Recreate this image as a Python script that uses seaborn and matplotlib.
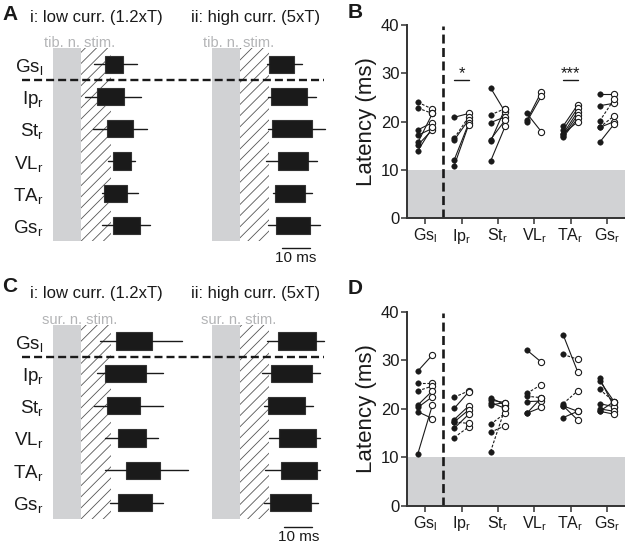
import matplotlib
matplotlib.use("Agg")
import matplotlib.pyplot as plt
import matplotlib.transforms as mtransforms
from matplotlib.lines import Line2D
import pandas as pd
import seaborn as sns

# muscle names (rows in A/C, categories in B/D)
muscles = ["Gs$_{l}$", "Ip$_{r}$", "St$_{r}$", "VL$_{r}$", "TA$_{r}$", "Gs$_{r}$"]

# A: tibial nerve stim, burst onset boxes (ms after stim onset)
a_low_whislo = [14.5, 11.3, 14.3, 19.6, 17.3, 17.3]
a_low_q1 = [18.5, 15.5, 19.3, 21.2, 18.2, 21.2]
a_low_q3 = [25.0, 25.2, 28.4, 27.6, 26.4, 31.0]
a_low_whishi = [29.8, 31.2, 33.4, 29.2, 30.1, 34.5]
a_high_whislo = [19.6, 20.0, 20.1, 19.3, 21.8, 20.1]
a_high_q1 = [20.6, 21.1, 21.6, 23.6, 22.5, 22.8]
a_high_q3 = [29.4, 34.2, 35.7, 34.5, 33.3, 35.1]
a_high_whishi = [32.3, 37.2, 40.5, 37.7, 35.8, 38.6]

# C: sural nerve stim
c_low_whislo = [16.7, 15.5, 14.6, 18.5, 18.5, 20.2]
c_low_q1 = [22.3, 18.5, 19.0, 23.2, 26.0, 23.2]
c_low_q3 = [35.4, 33.0, 31.0, 33.0, 38.1, 35.4]
c_low_whishi = [45.8, 39.3, 39.3, 37.5, 48.2, 39.3]
c_high_whislo = [19.6, 17.9, 18.8, 20.6, 19.0, 18.5]
c_high_q1 = [23.8, 21.1, 20.2, 24.2, 24.6, 20.8]
c_high_q3 = [37.3, 35.7, 33.3, 37.3, 37.5, 35.4]
c_high_whishi = [40.0, 38.7, 36.1, 38.7, 38.7, 38.1]

# B: latencies per animal, low (filled) vs high (open) current
b_low = [[24.0, 22.8, 18.3, 17.2, 15.7, 15.2, 14.0],
         [20.9, 16.6, 16.2, 12.1, 10.9],
         [27.0, 21.4, 19.8, 16.3, 15.9, 11.8],
         [20.3, 20.0, 21.7],
         [19.1, 18.3, 17.5, 17.1, 16.8, 17.5],
         [25.7, 23.3, 20.1, 18.8, 15.7, 18.8]]
b_high = [[22.6, 21.7, 19.8, 18.6, 21.7, 18.3, 18.8],
          [21.7, 21.0, 20.4, 19.7, 19.4],
          [22.0, 22.7, 21.0, 20.3, 22.7, 19.0],
          [26.2, 25.3, 17.9],
          [23.5, 22.8, 22.1, 21.4, 20.7, 20.0],
          [25.7, 23.8, 24.6, 20.0, 19.5, 21.2]]
b_dashed = [[1, 1, 0, 0, 0, 0, 0],
            [0, 1, 0, 0, 0],
            [0, 1, 0, 0, 0, 0],
            [0, 0, 0],
            [0, 0, 0, 0, 0, 0],
            [0, 0, 1, 0, 0, 1]]

# D
d_low = [[27.8, 25.4, 23.7, 20.8, 20.3, 19.4, 10.8],
         [22.4, 20.1, 17.8, 17.3, 16.0, 14.1, 17.3],
         [22.3, 21.8, 21.3, 20.8, 16.8, 15.2, 11.2],
         [32.1, 23.2, 22.6, 21.5, 19.1, 19.1],
         [35.2, 31.2, 21.1, 20.6, 18.2, 20.6],
         [26.3, 25.8, 24.0, 21.1, 20.0, 19.5, 19.5]]
d_high = [[31.1, 25.4, 24.7, 23.7, 22.5, 18.0, 20.8],
          [23.7, 23.5, 20.6, 19.8, 18.9, 16.3, 17.0],
          [20.8, 21.3, 20.1, 21.3, 19.1, 16.5, 20.1],
          [29.6, 25.0, 22.3, 21.6, 22.3, 20.3],
          [27.6, 30.2, 23.7, 17.7, 19.5, 19.5],
          [20.4, 21.5, 21.5, 20.4, 19.5, 21.5, 18.9]]
d_dashed = [[0, 1, 1, 0, 0, 0, 0],
            [1, 0, 0, 0, 0, 1, 1],
            [0, 0, 0, 0, 1, 1, 1],
            [0, 1, 1, 0, 0, 0],
            [0, 1, 1, 0, 0, 0],
            [0, 0, 1, 0, 0, 0, 0]]

W, H = 625, 543
GREY = "#d1d2d4"
INK = "#1a1a1a"
PX_PER_MS = 2.8

sns.set_theme(style="ticks")
plt.rcParams["font.family"] = ["Liberation Sans", "DejaVu Sans"]
plt.rcParams["mathtext.default"] = "regular"
plt.rcParams["hatch.linewidth"] = 0.6
plt.rcParams["hatch.color"] = "#555555"

fig = plt.figure(figsize=(W / 100, H / 100), dpi=100)


def px_axes(left, top, right, bottom):
    return fig.add_axes([left / W, 1 - bottom / H, (right - left) / W, (bottom - top) / H])


def onset_panel(ax, whislo, q1, q3, whishi, stim_label, title, show_rows):
    ax.set_facecolor("none")
    ax.axvspan(0, 10, color=GREY, lw=0, zorder=0)
    ax.axvspan(10, 20.5, facecolor="none", edgecolor="#555555", hatch="///", lw=0, zorder=0)
    stats = []
    for i in range(len(muscles)):
        stats.append({"whislo": whislo[i], "q1": q1[i], "med": (q1[i] + q3[i]) / 2,
                      "q3": q3[i], "whishi": whishi[i], "fliers": []})
    ax.bxp(stats, positions=range(len(muscles)), orientation="horizontal", widths=0.53,
           patch_artist=True, showcaps=False, showfliers=False, manage_ticks=False,
           boxprops=dict(facecolor=INK, edgecolor="#333333", lw=0.8),
           whiskerprops=dict(color=INK, lw=1.0), medianprops=dict(lw=0))
    ax.set_ylim(len(muscles) - 0.5, -0.5)
    for s in ax.spines.values():
        s.set_visible(False)
    ax.set_xticks([])
    ax.set_yticks(range(len(muscles)))
    ax.set_yticklabels(muscles if show_rows else [], fontsize=13.5, color=INK)
    ax.tick_params(axis="y", length=0, pad=7)
    ax.text(9.5, -0.53, stim_label, color="#b3b4b6", fontsize=10.5, ha="center", va="baseline")
    ax.text(15.5, -1.32, title, color=INK, fontsize=12, ha="center", va="baseline")


def row_divider(ax):
    trans = mtransforms.blended_transform_factory(fig.transFigure, ax.transData)
    fig.add_artist(Line2D([22 / W, 324 / W], [0.5, 0.5], transform=trans, color=INK,
                          lw=1.7, linestyle=(0, (3.4, 1.7))))


def scale_bar(ax, x0, y_bar):
    ax.plot([x0, x0 + 10], [y_bar, y_bar], color=INK, lw=1.0, clip_on=False)
    ax.text(x0 + 5, y_bar + 0.45, "10 ms", fontsize=11, color=INK, ha="center", va="baseline")


def latency_panel(ax, low, high, dashed):
    ax.axhspan(0, 10, color=GREY, lw=0, zorder=0)
    rows = []
    for i in range(len(muscles)):
        for lo, hi, da in zip(low[i], high[i], dashed[i]):
            ax.plot([i - 0.2, i + 0.2], [lo, hi], color=INK, lw=0.8,
                    ls=(0, (2.5, 1.5)) if da else "-", zorder=2)
            rows.append({"x": i - 0.2, "lat": lo, "cond": "low"})
            rows.append({"x": i + 0.2, "lat": hi, "cond": "high"})
    df = pd.DataFrame(rows)
    sns.scatterplot(data=df[df.cond == "low"], x="x", y="lat", color=INK, edgecolor=INK,
                    s=16, linewidth=0.3, ax=ax, zorder=3)
    sns.scatterplot(data=df[df.cond == "high"], x="x", y="lat", color="white", edgecolor=INK,
                    s=20, linewidth=0.8, ax=ax, zorder=3)
    ax.axvline(0.5, ymin=0, ymax=0.993, color=INK, lw=1.9, linestyle=(0, (3.4, 1.7)), zorder=1)
    ax.set_xlim(-0.5, len(muscles) - 0.5)
    ax.set_ylim(0, 40)
    ax.set_yticks([0, 10, 20, 30, 40])
    ax.set_xticks(range(len(muscles)))
    ax.set_xticklabels(muscles, fontsize=11.5, color=INK)
    ax.tick_params(axis="y", labelsize=12, labelcolor=INK, length=4, width=1.1, pad=1.5, color="#333333")
    ax.tick_params(axis="x", length=4, width=1.1, pad=2, color="#333333")
    ax.set_xlabel("")
    ax.set_ylabel("Latency (ms)", fontsize=16, color=INK, labelpad=3)
    sns.despine(ax=ax)
    for side in ["left", "bottom"]:
        ax.spines[side].set_color("#333333")
        ax.spines[side].set_linewidth(1.4)


def sig_mark(ax, x, text):
    ax.plot([x - 0.22, x + 0.22], [28.7, 28.7], color=INK, lw=1.0)
    ax.text(x, 28.3, text, fontsize=12, ha="center", va="bottom", color=INK)


# ---- A ----
left_i, left_ii = 53.3, 211.7
ax_ai = px_axes(left_i, 48.3, left_i + 50 * PX_PER_MS, 241.5)
ax_aii = px_axes(left_ii, 48.3, left_ii + 42 * PX_PER_MS, 241.5)
onset_panel(ax_ai, a_low_whislo, a_low_q1, a_low_q3, a_low_whishi,
            "tib. n. stim.", "i: low curr. (1.2xT)", True)
onset_panel(ax_aii, a_high_whislo, a_high_q1, a_high_q3, a_high_whishi,
            "tib. n. stim.", "ii: high curr. (5xT)", False)
ax_ai.set_xlim(0, 50)
ax_aii.set_xlim(0, 42)
row_divider(ax_ai)
scale_bar(ax_aii, 25, 5.7)

# ---- C ----
ax_ci = px_axes(left_i, 324.9, left_i + 50 * PX_PER_MS, 518.7)
ax_cii = px_axes(left_ii, 324.9, left_ii + 42 * PX_PER_MS, 518.7)
onset_panel(ax_ci, c_low_whislo, c_low_q1, c_low_q3, c_low_whishi,
            "sur. n. stim.", "i: low curr. (1.2xT)", True)
onset_panel(ax_cii, c_high_whislo, c_high_q1, c_high_q3, c_high_whishi,
            "sur. n. stim.", "ii: high curr. (5xT)", False)
ax_ci.set_xlim(0, 50)
ax_cii.set_xlim(0, 42)
row_divider(ax_ci)
scale_bar(ax_cii, 26, 5.75)

# ---- B / D ----
ax_b = px_axes(407, 25, 625, 218.3)
latency_panel(ax_b, b_low, b_high, b_dashed)
sig_mark(ax_b, 1, "*")
sig_mark(ax_b, 4, "***")

ax_d = px_axes(407, 311.7, 625, 506)
latency_panel(ax_d, d_low, d_high, d_dashed)

# panel letters
for x, y, s in [(2, 5, "A"), (348, 3, "B"), (2, 277, "C"), (348, 279, "D")]:
    fig.text(x / W, 1 - y / H, s, fontsize=15, fontweight="bold", color=INK, va="top", ha="left")

fig.savefig("out.png", dpi=100)
